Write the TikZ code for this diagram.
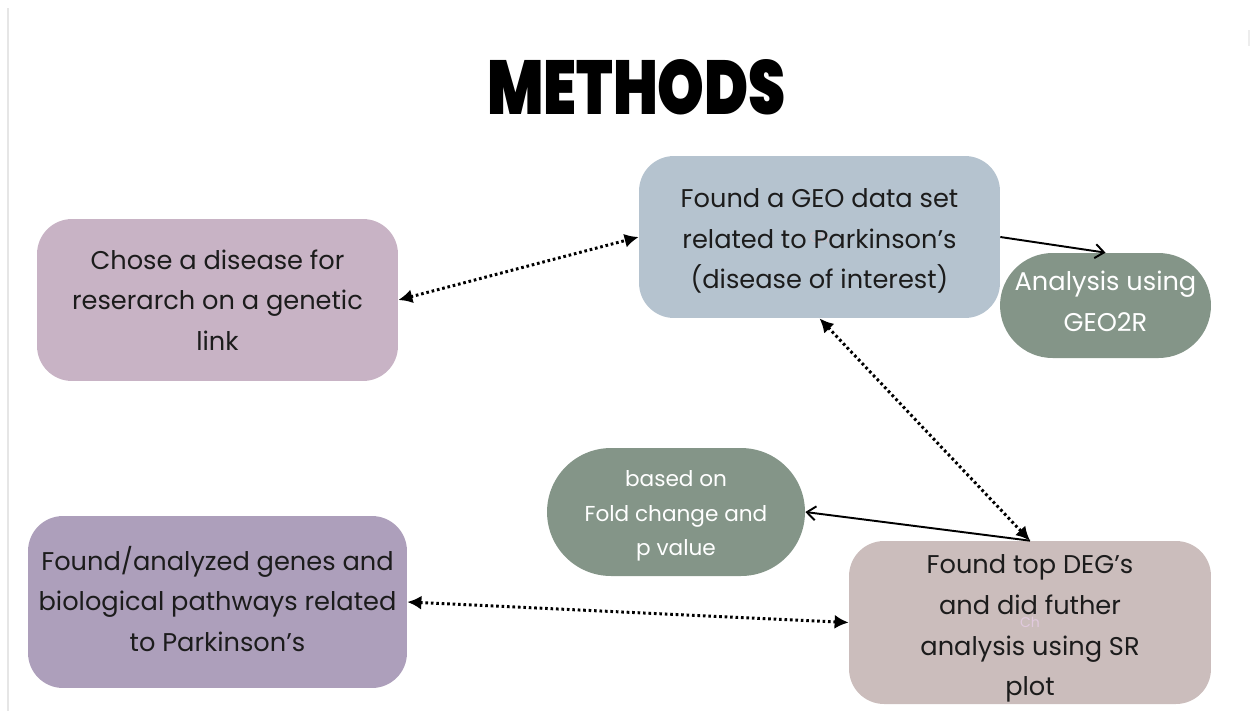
\documentclass[tikz,border=0pt]{standalone}
\usepackage{fontspec}
\usepackage{graphicx}
\setmainfont{Poppins}
\newfontfamily\titlefont{Poppins Black}
\usetikzlibrary{arrows.meta}

\definecolor{inkdark}{HTML}{1C1C1C}
\definecolor{chosefill}{HTML}{C8B3C5}
\definecolor{geofill}{HTML}{B5C3CF}
\definecolor{sagefill}{HTML}{849588}
\definecolor{genesfill}{HTML}{AD9FBB}
\definecolor{degfill}{HTML}{CBBDBC}
\definecolor{edgegrey}{HTML}{E6E6E6}

\begin{document}
\begin{tikzpicture}[x=0.02cm, y=-0.02cm,
  card/.style={rounded corners=0.7cm, inner sep=0pt},
  pill/.style={inner sep=0pt, fill=sagefill},
  cardtext/.style={align=center, inner sep=0pt, text=inkdark,
    font=\fontsize{14.6}{23.2}\selectfont},
  pilltext/.style={align=center, inner sep=0pt, text=white,
    font=\fontsize{14.6}{23.2}\selectfont},
  dotlink/.style={line width=1.7pt, dash pattern=on 1.5pt off 1.6pt,
    {Latex[length=8pt,width=8pt]}-{Latex[length=8pt,width=8pt]}},
  solidlink/.style={line width=1.1pt, -{Straight Barb[length=5pt,width=8pt]}},
  ghost/.style={font=\fontsize{8}{10}\selectfont, inner sep=0pt}
]
\useasboundingbox (0,0) rectangle (1250,711);

% page edge rules
\draw[edgegrey, line width=0.6pt] (8,8) -- (8,711);
\draw[edgegrey!70, line width=0.6pt] (1249,30) -- (1249,46);

% heading
\node[inner sep=0pt] (title) at (636.5,87.5)
  {\resizebox{5.98cm}{1.1cm}{\titlefont METHODS}};

% step shapes
\node[card, fill=chosefill, minimum width=7.22cm, minimum height=3.24cm]
  (chose) at (217.5,300) {};
\node[card, fill=geofill, minimum width=7.22cm, minimum height=3.24cm]
  (geo) at (819.5,237) {};
\node[pill, rounded corners=1.05cm, minimum width=4.22cm, minimum height=2.1cm]
  (geotwor) at (1105.5,305.5) {};
\node[pill, rounded corners=1.28cm, minimum width=5.16cm, minimum height=2.56cm]
  (basis) at (676,512) {};
\node[card, fill=genesfill, minimum width=7.58cm, minimum height=3.44cm]
  (genes) at (217.5,602) {};
\node[card, fill=degfill, minimum width=7.24cm, minimum height=3.26cm]
  (deg) at (1030,622.5) {};

% faint marks left inside two cards
\node[ghost, text=geofill!60!pink] (geomark) at (geo.center) {Ch};
\node[ghost, text=degfill!55!violet!35!white] (degmark) at (deg.center) {Ch};

% step texts
\node[cardtext] (chosetext) at (217.5,300)
  {Chose a disease for\\reserarch on a genetic\\link};
\node[cardtext] (geotext) at (819.5,241)
  {Found a GEO data set\\related to Parkinson’s\\(disease of interest)};
\node[pilltext] (geotwortext) at (1105.5,301.5)
  {Analysis using\\GEO2R};
\node[pilltext, font=\fontsize{12.3}{19.5}\selectfont] (basistext) at (676,516)
  {based on\\Fold change and\\p value};
\node[cardtext] (genestext) at (217.5,599)
  {Found/analyzed genes and\\biological pathways related\\to Parkinson’s};
\node[cardtext] (degtext) at (1030,628.5)
  {Found top DEG’s\\and did futher\\analysis using SR\\plot};

% connectors
\draw[dotlink] (chose.east) -- (geo.west);
\draw[solidlink] (geo.east) -- (geotwor.north);
\draw[dotlink] (geo.south) -- (deg.north);
\draw[solidlink] (deg.north) -- (basis.east);
\draw[dotlink] (genes.east) -- (deg.west);
\end{tikzpicture}
\end{document}
